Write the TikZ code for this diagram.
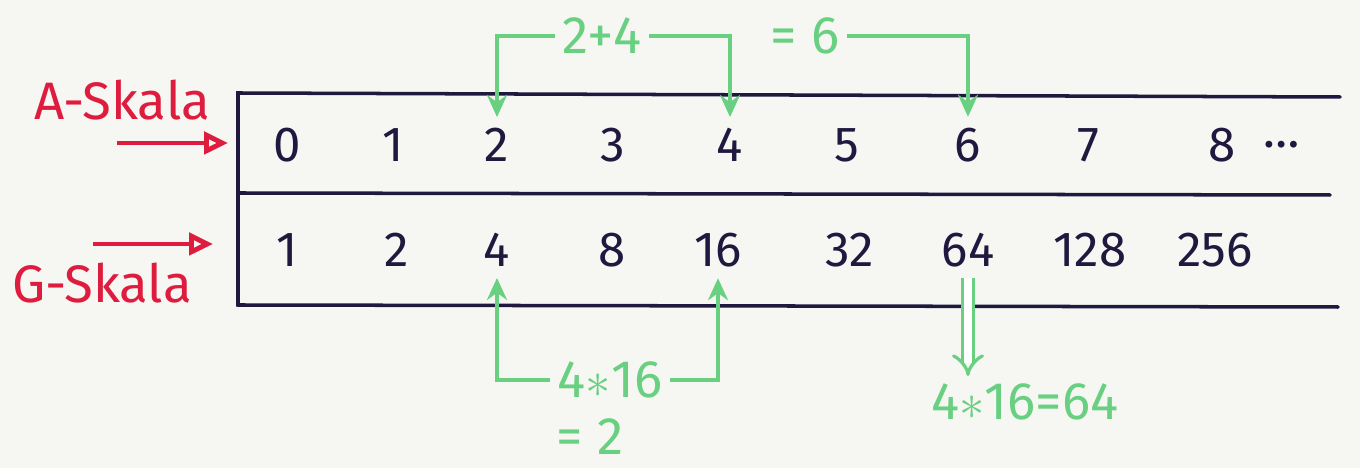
\documentclass[tikz,border=0pt]{standalone}
\usepackage{fontspec}
\setmainfont{Fira Sans}
\usepackage{tikz}
\usetikzlibrary{arrows.meta,positioning,calc}
\definecolor{paper}{RGB}{246,246,243}
\definecolor{inkblue}{RGB}{32,24,62}
\definecolor{skalared}{RGB}{222,28,62}
\definecolor{calcgreen}{RGB}{104,208,128}
\tikzset{
  boxline/.style={inkblue, line width=1.0pt, line cap=round},
  num/.style={font=\fontsize{14}{16}\selectfont, text=inkblue, inner sep=3pt},
  scalelbl/.style={font=\fontsize{15}{18}\selectfont, text=skalared},
  redarr/.style={-{Triangle[open, length=2.4mm, width=2.2mm]}, skalared, line width=1.4pt},
  calc/.style={font=\fontsize{15}{17}\selectfont, text=calcgreen, inner sep=2pt},
  grarr/.style={-{Stealth[length=2.2mm, width=2.0mm]}, calcgreen, line width=1.0pt},
  dblarr/.style={-{Implies}, calcgreen, double, double distance=2.2pt, line width=0.9pt},
}

\begin{document}
\begin{tikzpicture}
  \fill[paper] (0,0) rectangle (13.6,4.68);
  \useasboundingbox (0,0) rectangle (13.6,4.68);
  % scale table
  \coordinate (boxW) at (2.38,2.75);
  \draw[boxline] (13.40,3.71) -- (2.38,3.75) -- (2.38,1.63) -- (13.38,1.61);
  \draw[boxline] (boxW) -- (13.30,2.73);
  % A-Skala row
  \foreach \i/\x in {0/2.87, 1/3.93, 2/4.97, 3/6.13, 4/7.30, 5/8.47, 6/9.68, 7/10.88, 8/12.22}{
    \node[num] (a\i) at (\x,3.23) {\i};
  }
  \node[num, right=0.05 of a8] (adots) {\dots};
  % G-Skala row
  \foreach \i/\v/\x in {0/1/2.87, 1/2/3.97, 2/4/4.97, 3/8/6.12, 4/16/7.18, 5/32/8.50, 6/64/9.68, 7/128/10.90, 8/256/12.15}{
    \node[num] (g\i) at (\x,2.18) {\v};
  }
  % labels
  \node[scalelbl] (lblA) at (1.22,3.68) {A-Skala};
  \node[scalelbl] (lblG) at (1.02,1.85) {G-Skala};
  \coordinate (inA) at (1.17,3.25);
  \coordinate (inG) at (0.93,2.24);
  \draw[redarr] (inA) -- (inA -| boxW) [shorten >=0.1cm];
  \draw[redarr] (inG) -- (inG -| boxW) [shorten >=0.25cm];
  % addition on A-Skala
  \node[calc] (sum) at (6.02,4.32) {2+4};
  \node[calc] (eq6) at (8.05,4.32) {= 6};
  \draw[grarr] (sum.west) -| (a2.north);
  \draw[grarr] (sum.east) -| (a4.north);
  \draw[grarr] (eq6.east) -| (a6.north);
  % multiplication on G-Skala
  \node[calc] (prod) at (6.10,0.88) {4$\ast$16};
  \node[calc] (eq2) at (5.90,0.31) {= 2};
  \draw[grarr] (prod.west) -| (g2.south);
  \draw[grarr] (prod.east) -| (g4.south);
  \node[calc] (res) at (10.25,0.66) {4$\ast$16=64};
  \draw[dblarr] (g6.south) -- (g6.south |- res.north);
\end{tikzpicture}
\end{document}
